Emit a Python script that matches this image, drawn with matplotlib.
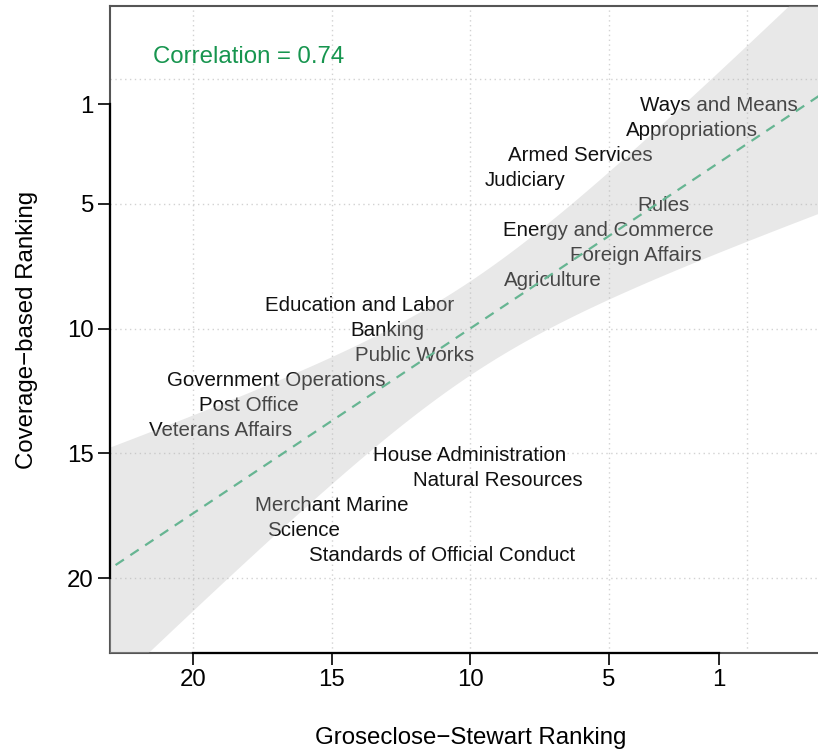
import matplotlib

matplotlib.use("Agg")
import matplotlib.pyplot as plt
import numpy as np

plt.rcParams["font.family"] = ["Liberation Sans", "DejaVu Sans"]

# Committee rankings: Groseclose-Stewart rank vs coverage-based rank
committees = [
    "Ways and Means", "Appropriations", "Armed Services", "Judiciary", "Rules",
    "Energy and Commerce", "Foreign Affairs", "Agriculture", "Education and Labor",
    "Banking", "Public Works", "Government Operations", "Post Office",
    "Veterans Affairs", "House Administration", "Natural Resources",
    "Merchant Marine", "Science", "Standards of Official Conduct",
]
gs_rank = [1, 2, 6, 8, 3, 5, 4, 7, 14, 13, 12, 17, 18, 19, 10, 9, 15, 16, 11]
coverage_rank = [1, 2, 3, 4, 5, 6, 7, 8, 9, 10, 11, 12, 13, 14, 15, 16, 17, 18, 19]

x_ticks = [20, 15, 10, 5, 1]
y_ticks = [1, 5, 10, 15, 20]
grid_vals = [0, 5, 10, 15, 20]

W, H = 818, 752
fig = plt.figure(figsize=(W / 100, H / 100), dpi=100)
# axes box runs slightly past the right edge of the canvas
ax = fig.add_axes([110 / W, (H - 653) / H, (832 - 110) / W, (653 - 6) / H])
ax.set_xlim(23, -3.07)
ax.set_ylim(23, -2.93)

x = np.array(gs_rank, dtype=float)
y = np.array(coverage_rank, dtype=float)
n = len(x)

# linear fit with 95% confidence band
slope, intercept = np.polyfit(x, y, 1)
resid = y - (intercept + slope * x)
s = np.sqrt(np.sum(resid ** 2) / (n - 2))
sxx = np.sum((x - x.mean()) ** 2)
t_crit = 2.110  # t(0.975, df=17)
xs = np.linspace(-4, 24, 200)
fit = intercept + slope * xs
half = t_crit * s * np.sqrt(1 / n + (xs - x.mean()) ** 2 / sxx)
r = np.corrcoef(x, y)[0, 1]

for v in grid_vals:
    ax.axvline(v, color="#d2d2d2", lw=1, ls=(0, (1, 2.5)), zorder=0)
    ax.axhline(v, color="#d2d2d2", lw=1, ls=(0, (1, 2.5)), zorder=0)


def centered_text(xv, yv, label, size, **kw):
    # centre on the cap height rather than the full glyph box
    drop = 0.716 * size / 2
    ax.annotate(label, (xv, yv), xytext=(0, -drop), textcoords="offset points",
                ha="center", va="baseline", fontsize=size, **kw)


for name, gx, cy in zip(committees, gs_rank, coverage_rank):
    centered_text(gx, cy, name, 14.8, color="#111111", zorder=2)

ax.fill_between(xs, fit - half, fit + half, color="#b8b8b8", alpha=0.32,
                lw=0, zorder=3)
ax.plot(xs, fit, color="#66b592", lw=1.6, dashes=(4.5, 3.5), zorder=4)

centered_text(18, -1, f"Correlation = {r:.2f}", 17.3, color="#17954f")

ax.set_xticks(x_ticks)
ax.set_yticks(y_ticks)
ax.set_xticklabels([str(v) for v in x_ticks])
ax.set_yticklabels([str(v) for v in y_ticks])
ax.tick_params(axis="both", length=8.6, width=1.2, labelsize=17.3, pad=3,
               color="black")

for side in ["top", "left", "bottom"]:
    ax.spines[side].set_color("#555555")
    ax.spines[side].set_linewidth(1.5)
ax.spines["right"].set_visible(False)

# axis lines spanning the tick range
ax.plot([x_ticks[0], x_ticks[-1]], [23, 23], color="black", lw=1.6,
        clip_on=False, zorder=5)
ax.plot([23, 23], [y_ticks[0], y_ticks[-1]], color="black", lw=1.6,
        clip_on=False, zorder=5)

fig.text(471 / W, 1 - 738 / H, "Groseclose\u2212Stewart Ranking",
         ha="center", va="center", fontsize=17.3)
fig.text(27 / W, 1 - 330 / H, "Coverage\u2212based Ranking", rotation=90,
         ha="center", va="center", fontsize=17.3)

fig.savefig("out.png", dpi=100)
